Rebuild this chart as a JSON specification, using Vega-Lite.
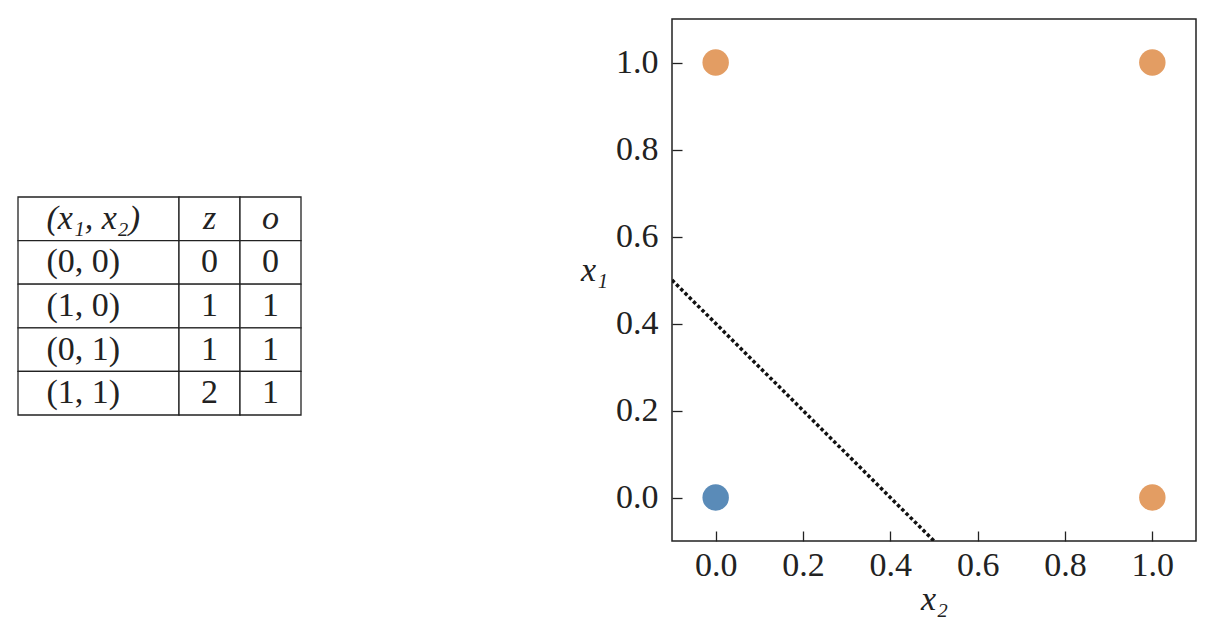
{
  "$schema": "https://vega.github.io/schema/vega-lite/v6.json",
  "padding": {"left": 17, "top": 18, "right": 10, "bottom": 5},
  "background": "white",
  "config": {
    "view": {"stroke": null},
    "font": "Liberation Serif",
    "text": {"font": "Liberation Serif", "fontSize": 34, "color": "#222"},
    "axis": {
      "labelFont": "Liberation Serif",
      "labelFontSize": 34,
      "labelColor": "#222",
      "titleFont": "Liberation Serif",
      "titleFontSize": 34,
      "titleFontWeight": "normal",
      "titleFontStyle": "italic",
      "titleColor": "#222",
      "tickColor": "#222",
      "tickWidth": 1.3,
      "tickSize": -10,
      "domain": false,
      "grid": false
    }
  },
  "datasets": {
    "table": [
      {"row": "h", "c1": "(x₁, x₂)", "z": "z", "o": "o"},
      {"row": "r1", "c1": "(0, 0)", "z": "0", "o": "0"},
      {"row": "r2", "c1": "(1, 0)", "z": "1", "o": "1"},
      {"row": "r3", "c1": "(0, 1)", "z": "1", "o": "1"},
      {"row": "r4", "c1": "(1, 1)", "z": "2", "o": "1"}
    ],
    "points": [
      {"x2": 0, "x1": 0, "o": 0},
      {"x2": 1, "x1": 0, "o": 1},
      {"x2": 0, "x1": 1, "o": 1},
      {"x2": 1, "x1": 1, "o": 1}
    ],
    "boundary": [
      {"x2": -0.1, "x1": 0.5},
      {"x2": 0.5, "x1": -0.1}
    ]
  },
  "hconcat": [
    {
      "spacing": 0,
      "bounds": "flush",
      "hconcat": [
        {
          "width": 161,
          "height": 522,
          "data": {"name": "table"},
          "encoding": {
            "y": {"field": "row", "type": "ordinal", "axis": null,
                  "scale": {"domain": ["h", "r1", "r2", "r3", "r4"], "paddingInner": 0, "paddingOuter": 0, "range": [178, 396]}}
          },
          "layer": [
            {"mark": {"type": "rect", "fill": "white", "stroke": "#222", "strokeWidth": 1.3}},
            {"transform": [{"filter": "datum.row !== 'h'"}],
             "mark": {"type": "text", "align": "left", "dx": -52, "baseline": "middle"},
             "encoding": {"text": {"field": "c1"}}},
            {"transform": [{"filter": "datum.row === 'h'"}],
             "mark": {"type": "text", "align": "left", "dx": -52, "baseline": "middle", "fontStyle": "italic"},
             "encoding": {"text": {"field": "c1"}}}
          ]
        },
        {
          "width": 61,
          "height": 522,
          "data": {"name": "table"},
          "encoding": {
            "y": {"field": "row", "type": "ordinal", "axis": null,
                  "scale": {"domain": ["h", "r1", "r2", "r3", "r4"], "paddingInner": 0, "paddingOuter": 0, "range": [178, 396]}}
          },
          "layer": [
            {"mark": {"type": "rect", "fill": "white", "stroke": "#222", "strokeWidth": 1.3}},
            {"transform": [{"filter": "datum.row !== 'h'"}],
             "mark": {"type": "text", "align": "center", "baseline": "middle"},
             "encoding": {"text": {"field": "z"}}},
            {"transform": [{"filter": "datum.row === 'h'"}],
             "mark": {"type": "text", "align": "center", "baseline": "middle", "fontStyle": "italic"},
             "encoding": {"text": {"field": "z"}}}
          ]
        },
        {
          "width": 61,
          "height": 522,
          "data": {"name": "table"},
          "encoding": {
            "y": {"field": "row", "type": "ordinal", "axis": null,
                  "scale": {"domain": ["h", "r1", "r2", "r3", "r4"], "paddingInner": 0, "paddingOuter": 0, "range": [178, 396]}}
          },
          "layer": [
            {"mark": {"type": "rect", "fill": "white", "stroke": "#222", "strokeWidth": 1.3}},
            {"transform": [{"filter": "datum.row !== 'h'"}],
             "mark": {"type": "text", "align": "center", "baseline": "middle"},
             "encoding": {"text": {"field": "o"}}},
            {"transform": [{"filter": "datum.row === 'h'"}],
             "mark": {"type": "text", "align": "center", "baseline": "middle", "fontStyle": "italic"},
             "encoding": {"text": {"field": "o"}}}
          ]
        }
      ]
    },
    {
      "width": 524,
      "height": 522,
      "view": {"stroke": "#222", "strokeWidth": 1.5},
      "layer": [
        {
          "data": {"name": "boundary"},
          "mark": {"type": "line", "color": "#111", "strokeWidth": 3.5, "strokeDash": [3.5, 2.5], "clip": true},
          "encoding": {
            "x": {"field": "x2", "type": "quantitative"},
            "y": {"field": "x1", "type": "quantitative"}
          }
        },
        {
          "data": {"name": "points"},
          "mark": {"type": "circle", "opacity": 1, "size": 700},
          "encoding": {
            "x": {"field": "x2", "type": "quantitative",
                  "scale": {"domain": [-0.1, 1.1], "nice": false, "zero": false},
                  "axis": {"title": "x₂", "values": [0, 0.2, 0.4, 0.6, 0.8, 1.0], "format": ".1f", "labelPadding": 17, "titlePadding": 0}},
            "y": {"field": "x1", "type": "quantitative",
                  "scale": {"domain": [-0.1, 1.1], "nice": false, "zero": false},
                  "axis": {"title": "x₁", "values": [0, 0.2, 0.4, 0.6, 0.8, 1.0], "format": ".1f", "labelPadding": 24, "titleAngle": 0, "titleAlign": "right", "titleBaseline": "alphabetic", "titlePadding": 8}},
            "color": {"field": "o", "type": "nominal", "legend": null,
                      "scale": {"domain": [0, 1], "range": ["#5A8BB8", "#E39D63"]}}
          }
        }
      ]
    }
  ],
  "spacing": 277
}
